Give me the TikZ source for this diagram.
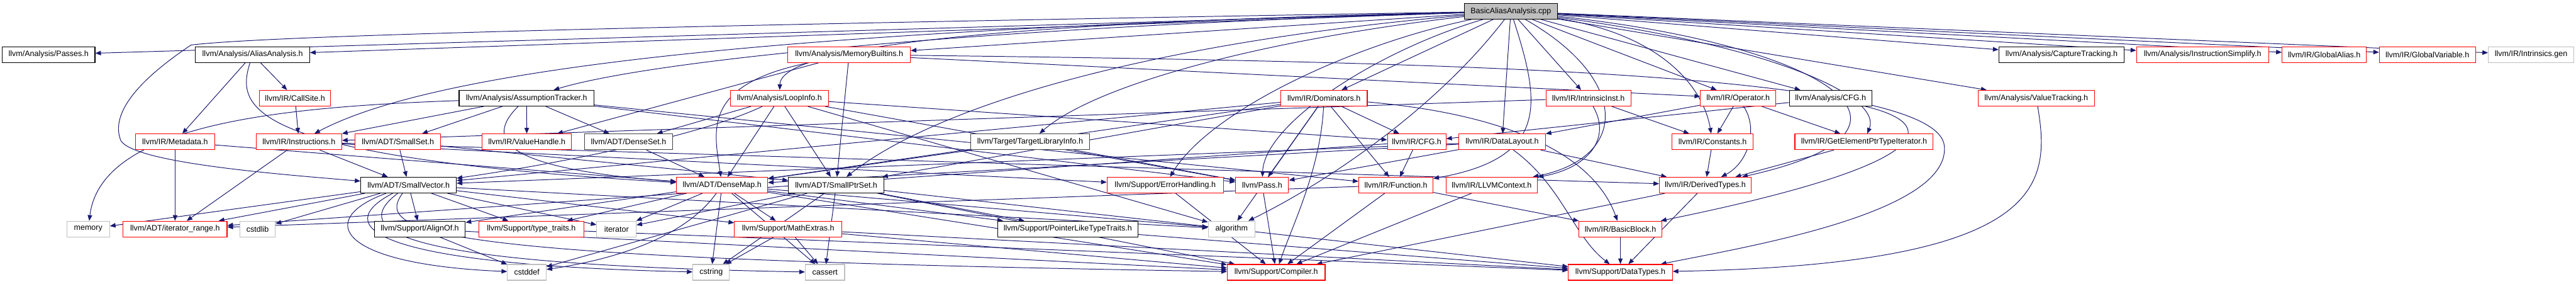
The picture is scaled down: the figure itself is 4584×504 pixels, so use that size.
\documentclass[tikz,border=0pt]{standalone}
\usepackage{fontspec}
\setmainfont{Liberation Sans}
\usetikzlibrary{arrows.meta}
\definecolor{edgec}{HTML}{191970}
\definecolor{grayb}{HTML}{BFBFBF}
\definecolor{redb}{HTML}{FF0000}
\pgfdeclarelayer{edgelayer}
\pgfsetlayers{edgelayer,main}
\begin{document}
\begin{tikzpicture}[x=1pt,y=-1pt,
  box/.style={draw, fill=white, line width=1.2pt, minimum height=28pt, inner sep=0pt, font=\fontsize{14}{16}\selectfont},
  rbox/.style={box, draw=redb},
  kbox/.style={box, draw=black},
  dbox/.style={box, draw=black!75},
  gbox/.style={box, draw=grayb},
  rootbox/.style={box, draw=black, fill=grayb},
  ed/.style={draw=edgec, line width=1.1pt, -{Triangle[length=10pt,width=8pt]}}
]
\useasboundingbox (0,0) rectangle (4584,504);
% row 0
\node[rootbox, minimum width=165pt] (root) at (2688.5,20) {BasicAliasAnalysis.cpp};
% row 1
\node[kbox, minimum width=165pt] (passes) at (86.5,97) {llvm/Analysis/Passes.h};
\node[kbox, minimum width=203pt] (aa) at (449.5,97) {llvm/Analysis/AliasAnalysis.h};
\node[rbox, minimum width=218pt] (mb) at (1511,97) {llvm/Analysis/MemoryBuiltins.h};
\node[kbox, minimum width=223pt] (ct) at (3668.5,97) {llvm/Analysis/CaptureTracking.h};
\node[rbox, minimum width=235pt] (is) at (3919.5,97) {llvm/Analysis/InstructionSimplify.h};
\node[rbox, minimum width=150pt] (ga) at (4136,97) {llvm/IR/GlobalAlias.h};
\node[rbox, minimum width=171pt] (gv) at (4319.5,97) {llvm/IR/GlobalVariable.h};
\node[gbox, minimum width=152pt] (ig) at (4504,97) {llvm/IR/Intrinsics.gen};
% row 2
\node[rbox, minimum width=126pt] (cs) at (525,174.5) {llvm/IR/CallSite.h};
\node[kbox, minimum width=240pt] (at) at (937,174.5) {llvm/Analysis/AssumptionTracker.h};
\node[rbox, minimum width=174pt] (li) at (1387,174.5) {llvm/Analysis/LoopInfo.h};
\node[rbox, minimum width=154pt] (dom) at (2356,174.5) {llvm/IR/Dominators.h};
\node[rbox, minimum width=151pt] (ii) at (2826.5,174.5) {llvm/IR/IntrinsicInst.h};
\node[rbox, minimum width=134pt] (op) at (3093,174.5) {llvm/IR/Operator.h};
\node[kbox, minimum width=147pt] (acfg) at (3257.5,174.5) {llvm/Analysis/CFG.h};
\node[rbox, minimum width=207pt] (vt) at (3623.5,174.5) {llvm/Analysis/ValueTracking.h};
% row 3
\node[rbox, minimum width=141pt] (md) at (311.5,252) {llvm/IR/Metadata.h};
\node[rbox, minimum width=152pt] (ins) at (532,252) {llvm/IR/Instructions.h};
\node[rbox, minimum width=152pt] (sset) at (708,252) {llvm/ADT/SmallSet.h};
\node[rbox, minimum width=159pt] (vh) at (937.5,252) {llvm/IR/ValueHandle.h};
\node[dbox, minimum width=157pt] (ds) at (1118.5,252) {llvm/ADT/DenseSet.h};
\node[dbox, minimum width=212pt] (tli) at (1833,252) {llvm/Target/TargetLibraryInfo.h};
\node[rbox, minimum width=104pt] (ircfg) at (2521,252) {llvm/IR/CFG.h};
\node[rbox, minimum width=154pt] (dl) at (2673,252) {llvm/IR/DataLayout.h};
\node[rbox, minimum width=145pt] (cst) at (3047.5,252) {llvm/IR/Constants.h};
\node[rbox, minimum width=246pt] (gep) at (3317,252) {llvm/IR/GetElementPtrTypeIterator.h};
% row 4
\node[kbox, minimum width=170pt] (sv) at (727,329) {llvm/ADT/SmallVector.h};
\node[rbox, minimum width=162pt] (dm) at (1285,329) {llvm/ADT/DenseMap.h};
\node[kbox, minimum width=170pt] (sps) at (1488,329) {llvm/ADT/SmallPtrSet.h};
\node[rbox, minimum width=207pt] (eh) at (2073.5,329) {llvm/Support/ErrorHandling.h};
\node[rbox, minimum width=94pt] (pass) at (2246,329) {llvm/Pass.h};
\node[rbox, minimum width=132pt] (fn) at (2484,329) {llvm/IR/Function.h};
\node[rbox, minimum width=163pt] (ctx) at (2654.5,329) {llvm/IR/LLVMContext.h};
\node[rbox, minimum width=163pt] (dt) at (3034.5,329) {llvm/IR/DerivedTypes.h};
% row 5
\node[gbox, minimum width=76pt] (mem) at (157,407) {memory};
\node[rbox, minimum width=185pt] (ir) at (311.5,407) {llvm/ADT/iterator\_range.h};
\node[gbox, minimum width=63pt] (cstdlib) at (458.5,407) {cstdlib};
\node[kbox, minimum width=162pt] (ao) at (747,407) {llvm/Support/AlignOf.h};
\node[rbox, minimum width=187pt] (tt) at (945.5,407) {llvm/Support/type\_traits.h};
\node[gbox, minimum width=70pt] (iter) at (1097,407) {iterator};
\node[rbox, minimum width=191pt] (mx) at (1402.5,407) {llvm/Support/MathExtras.h};
\node[kbox, minimum width=250pt] (pltt) at (1900,407) {llvm/Support/PointerLikeTypeTraits.h};
\node[gbox, minimum width=83pt] (alg) at (2191.5,407) {algorithm};
\node[rbox, minimum width=147pt] (bblk) at (2883.5,407) {llvm/IR/BasicBlock.h};
% row 6
\node[gbox, minimum width=69pt] (cstddef) at (937.5,484) {cstddef};
\node[gbox, minimum width=65pt] (cstring) at (1265.5,484) {cstring};
\node[gbox, minimum width=70pt] (cassert) at (1468,484) {cassert};
\node[rbox, minimum width=174pt] (comp) at (2271,484) {llvm/Support/Compiler.h};
\node[rbox, minimum width=185pt] (dtypes) at (2883.5,484) {llvm/Support/DataTypes.h};

\begin{pgfonlayer}{edgelayer}
% ---- edges from root
\draw[ed] (root) -- (passes);
\draw[ed] (root) -- (aa);
\draw[ed] (root) -- (mb);
\draw[ed] (root) -- (ct);
\draw[ed] (root) -- (is);
\draw[ed] (root) -- (ga);
\draw[ed] (root) -- (gv);
\draw[ed] (root) -- (ig);
\draw[ed] (root) .. controls (1700,50) and (1150,110) .. (at);
\draw[ed] (root) .. controls (1800,40) and (1390,80) .. (li);
\draw[ed] (root) .. controls (1500,50) and (800,110) .. (ins);
\draw[ed] (root) .. controls (1500,40) and (500,60) .. (340,80) .. controls (250,140) and (195,200) .. (215,250) .. controls (240,290) and (500,310) .. (sv);
\draw[ed] (root) .. controls (2000,80) and (1650,200) .. (sps);
\draw[ed] (root) .. controls (2250,70) and (1950,150) .. (tli);
\draw[ed] (root) .. controls (2400,80) and (2150,200) .. (eh);
\draw[ed] (root) .. controls (2450,90) and (2250,220) .. (pass);
\draw[ed] (root) -- (dom);
\draw[ed] (root) -- (dl);
\draw[ed] (root) -- (ii);
\draw[ed] (root) .. controls (2740,180) and (2760,280) .. (fn);
\draw[ed] (root) .. controls (2900,140) and (2900,280) .. (ctx);
\draw[ed] (root) .. controls (2950,60) and (3030,150) .. (cst);
\draw[ed] (root) -- (op);
\draw[ed] (root) -- (acfg);
\draw[ed] (root) .. controls (3150,80) and (3350,170) .. (gep);
\draw[ed] (root) -- (vt);
\draw[ed] (root) .. controls (3250,80) and (3480,230) .. (dt);
\draw[ed] (root) .. controls (2550,200) and (2350,330) .. (alg);

% ---- AliasAnalysis, CallSite, Metadata, Instructions, SmallSet
\draw[ed] (aa) -- (cs);
\draw[ed] (aa) -- (md);
\draw[ed] (aa) .. controls (420,190) and (430,280) .. (dm);
\draw[ed] (cs) -- (ins);
\draw[ed] (md) -- (ir);
\draw[ed] (md) -- (dm);
\draw[ed] (ins) -- (ir);
\draw[ed] (ins) -- (sv);
\draw[ed] (ins) -- (dt);
\draw[ed] (ins) -- (eh);
\draw[ed] (sset) -- (sv);
\draw[ed] (sset) -- (sps);

% ---- AssumptionTracker
\draw[ed] (at) .. controls (500,190) and (180,220) .. (mem);
\draw[ed] (at) -- (ins);
\draw[ed] (at) -- (sset);
\draw[ed] (at) -- (vh);
\draw[ed] (at) -- (ds);
\draw[ed] (at) .. controls (860,250) and (900,300) .. (dm);
\draw[ed] (at) -- (fn);
\draw[ed] (at) -- (pass);

% ---- LoopInfo
\draw[ed] (li) -- (ds);
\draw[ed] (li) -- (dm);
\draw[ed] (li) -- (sps);
\draw[ed] (li) .. controls (1250,240) and (1000,290) .. (sv);
\draw[ed] (li) -- (ircfg);
\draw[ed] (li) -- (pass);
\draw[ed] (li) -- (alg);

% ---- MemoryBuiltins
\draw[ed] (mb) .. controls (1250,150) and (1270,230) .. (dm);
\draw[ed] (mb) -- (vh);
\draw[ed] (mb) -- (sps);
\draw[ed] (mb) -- (op);
\draw[ed] (mb) .. controls (2600,110) and (3450,130) .. (3460,260) .. controls (3470,380) and (3100,440) .. (dtypes);

% ---- Dominators
\draw[ed] (dom) -- (ircfg);
\draw[ed] (dom) -- (fn);
\draw[ed] (dom) -- (dm);
\draw[ed] (dom) -- (sps);
\draw[ed] (dom) -- (sv);
\draw[ed] (dom) -- (pass);
\draw[ed] (dom) .. controls (2350,300) and (2300,400) .. (comp);
\draw[ed] (dom) .. controls (2650,200) and (2830,260) .. (bblk);
\draw[ed] (dom) -- (alg);

% ---- IntrinsicInst
\draw[ed] (ii) -- (ins);
\draw[ed] (ii) -- (cst);
\draw[ed] (ii) .. controls (2870,250) and (2820,300) .. (ctx);

% ---- DataLayout
\draw[ed] (dl) -- (sv);
\draw[ed] (dl) -- (dm);
\draw[ed] (dl) -- (dt);
\draw[ed] (dl) -- (pass);
\draw[ed] (dl) .. controls (2780,330) and (2800,420) .. (dtypes);

% ---- IR CFG, Function, LLVMContext, DerivedTypes, BasicBlock
\draw[ed] (ircfg) -- (fn);
\draw[ed] (ircfg) -- (ir);
\draw[ed] (fn) -- (bblk);
\draw[ed] (fn) -- (comp);
\draw[ed] (fn) -- (ir);
\draw[ed] (ctx) -- (comp);
\draw[ed] (dt) -- (comp);
\draw[ed] (dt) -- (dtypes);
\draw[ed] (bblk) -- (dtypes);

% ---- Constants, Operator, GEP, Analysis CFG, ValueTracking
\draw[ed] (cst) -- (dt);
\draw[ed] (op) -- (cst);
\draw[ed] (op) -- (gep);
\draw[ed] (op) -- (dl);
\draw[ed] (op) .. controls (3130,230) and (3110,290) .. (dt);
\draw[ed] (gep) -- (dt);
\draw[ed] (acfg) -- (ircfg);
\draw[ed] (acfg) .. controls (3450,220) and (3460,290) .. (bblk);
\draw[ed] (vt) .. controls (3650,330) and (3640,470) .. (dtypes);

% ---- TargetLibraryInfo, ErrorHandling, Pass
\draw[ed] (tli) -- (pass);
\draw[ed] (tli) -- (dm);
\draw[ed] (eh) -- (comp);
\draw[ed] (pass) -- (comp);

% ---- support headers
\draw[ed] (pltt) -- (dtypes);
\draw[ed] (tt) -- (dtypes);
\draw[ed] (ao) -- (cstddef);
\draw[ed] (ao) -- (comp);
\draw[ed] (mx) -- (cstring);
\draw[ed] (mx) -- (cassert);
\draw[ed] (mx) -- (comp);
\draw[ed] (mx) -- (dtypes);

% ---- SmallVector
\draw[ed] (sv) -- (mem);
\draw[ed] (sv) -- (ir);
\draw[ed] (sv) -- (cstdlib);
\draw[ed] (sv) -- (ao);
\draw[ed] (sv) -- (tt);
\draw[ed] (sv) -- (iter);
\draw[ed] (sv) -- (mx);
\draw[ed] (sv) -- (alg);
\draw[ed] (sv) .. controls (560,390) and (600,470) .. (cstddef);
\draw[ed] (sv) .. controls (590,400) and (650,470) .. (cstring);
\draw[ed] (sv) .. controls (620,410) and (700,470) .. (cassert);
\draw[ed] (sv) .. controls (660,420) and (800,460) .. (comp);

% ---- DenseMap
\draw[ed] (dm) -- (ao);
\draw[ed] (dm) -- (tt);
\draw[ed] (dm) -- (iter);
\draw[ed] (dm) -- (mx);
\draw[ed] (dm) -- (cstring);
\draw[ed] (dm) -- (cassert);
\draw[ed] (dm) -- (alg);
\draw[ed] (dm) -- (comp);
\draw[ed] (dm) -- (pltt);
\draw[ed] (dm) .. controls (1220,420) and (1100,460) .. (cstddef);
\draw[ed] (ds) -- (dm);

% ---- SmallPtrSet
\draw[ed] (sps) -- (iter);
\draw[ed] (sps) -- (cstring);
\draw[ed] (sps) -- (cassert);
\draw[ed] (sps) -- (pltt);
\draw[ed] (sps) -- (comp);
\draw[ed] (sps) -- (dtypes);
\draw[ed] (sps) -- (cstddef);
\end{pgfonlayer}
\end{tikzpicture}
\end{document}
